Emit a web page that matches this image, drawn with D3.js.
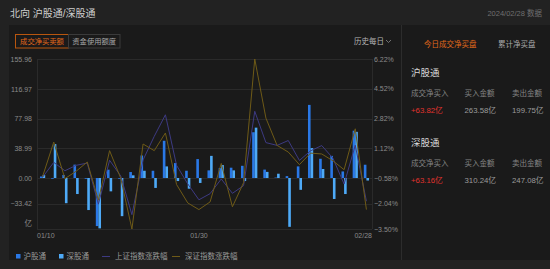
<!DOCTYPE html>
<html>
<head>
<meta charset="utf-8">
<script src="https://cdn.jsdelivr.net/npm/d3@7"></script>
<style>
  body { margin: 0; background: #222; }
  svg { display: block; font-family: "Liberation Sans", "Noto Sans CJK SC", sans-serif; }
</style>
</head>
<body>
<svg id="chart" width="550" height="269"></svg>
<script>
// trading days
const dates = ['01/10','01/11','01/12','01/15','01/16','01/17','01/18','01/19','01/22','01/23',
  '01/24','01/25','01/26','01/29','01/30','01/31','02/01','02/02','02/05','02/06',
  '02/07','02/08','02/19','02/20','02/21','02/22','02/23','02/26','02/27','02/28'];
// 沪股通 net buy (亿)
const shBuy = [2, -1, 4, 17.5, -1, -63, 10.9, -1, 7.8, 29.5,
  9.5, 48.8, 19.6, 9.5, 24.8, 10, 13, 13.5, 16, 60,
  11, 0.6, 2.5, 15.2, 95.8, 25.2, 29, 8.6, 62, 17.4];
// 深股通 net buy (亿)
const szBuy = [4, 44.4, -33, -21, -42, -66, -17.5, -50, 3.5, 9.5,
  -13, 15.2, -4, -14, -6.5, 29, 17, 10, -4, 66,
  8, 5.6, -64, -15.5, 39.2, 11.8, -27.5, -21, 60.5, -3.3];
// 上证指数涨跌幅 (%)
const shIdx = [-0.54, 0.31, -0.17, 0.14, 0.27, -2.08, 0.43, -0.47, -2.68, 0.45,
  1.80, 3.03, 0.14, -0.92, -1.83, -1.48, -0.64, -1.46, -1.02, 3.23,
  1.44, 1.28, 1.56, 0.42, 0.97, 1.27, 0.55, -0.93, 1.29, -1.91];
// 深证指数涨跌幅 (%)
const szIdx = [-0.5, 1.47, -0.62, -0.2, 0.33, -1.85, 0.98, -0.6, -3.50, 1.36,
  0.98, 1.99, -0.96, -2.01, -2.39, -1.95, 0.25, -2.23, -0.85, 6.22,
  2.84, 1.28, 0.9, 0.18, 0.84, 0.79, 0.4, -0.11, 2.23, -2.39];
const leftTicks = [155.96, 116.97, 77.98, 38.99, 0, -33.42];
const leftMin = -66.84;
const rightTicks = [6.22, 4.52, 2.82, 1.12, -0.58, -2.04, -3.50];
const xLabels = ['01/10', '01/30', '02/28'];

const svg = d3.select('#chart');
const plotL = 37, plotR = 372, plotT = 59, plotB = 229;

// panels
svg.append('rect').attr('x', 0).attr('y', 0).attr('width', 550).attr('height', 269).attr('fill', '#222');
svg.append('rect').attr('x', 9).attr('y', 25).attr('width', 541).attr('height', 235).attr('fill', '#1a1a1a');
svg.append('line').attr('x1', 401.5).attr('x2', 401.5).attr('y1', 25).attr('y2', 260).attr('stroke', '#2c2c2c');

svg.append('text').attr('x', 10).attr('y', 17).attr('fill', '#cfcfcf').attr('font-size', 10)
  .text('北向 沪股通/深股通');
svg.append('text').attr('x', 542).attr('y', 16).attr('fill', '#6f6f6f').attr('font-size', 7.5)
  .attr('text-anchor', 'end').text('2024/02/28 数据');

// buttons
svg.append('rect').attr('x', 15.5).attr('y', 34.5).attr('width', 53).attr('height', 13.5)
  .attr('fill', 'none').attr('stroke', '#b8560f');
svg.append('text').attr('x', 42).attr('y', 44.3).attr('text-anchor', 'middle').attr('fill', '#e2691a')
  .attr('font-size', 7.3).text('成交净买卖额');
svg.append('rect').attr('x', 68.5).attr('y', 34.5).attr('width', 51.5).attr('height', 13.5)
  .attr('fill', 'none').attr('stroke', '#3a3a3a');
svg.append('text').attr('x', 94.2).attr('y', 44.3).attr('text-anchor', 'middle').attr('fill', '#a8a8a8')
  .attr('font-size', 7.3).text('资金使用额度');
svg.append('text').attr('x', 354).attr('y', 43.5).attr('fill', '#b5b5b5').attr('font-size', 7.5).text('历史每日');
svg.append('path').attr('d', 'M386,40 L388.5,42.5 L391,40').attr('fill', 'none').attr('stroke', '#888').attr('stroke-width', 0.8);

// scales
const x = d3.scaleBand().domain(dates).range([plotL, plotR]);
const bw = x.bandwidth();
const yL = d3.scaleLinear().domain([leftMin, leftTicks[0]]).range([plotB, plotT]);
const yR = d3.scaleLinear().domain([rightTicks[rightTicks.length - 1], rightTicks[0]]).range([plotB, plotT]);

// grid
const grid = svg.append('g');
grid.selectAll('line.h').data(leftTicks.concat([leftMin])).enter().append('line')
  .attr('x1', plotL).attr('x2', plotR)
  .attr('y1', d => Math.round(yL(d)) + 0.5).attr('y2', d => Math.round(yL(d)) + 0.5)
  .attr('stroke', '#2a2a2a');
grid.selectAll('line.v').data([plotL, plotR]).enter().append('line')
  .attr('x1', d => d + 0.5).attr('x2', d => d + 0.5).attr('y1', plotT).attr('y2', plotB)
  .attr('stroke', '#2a2a2a');

// left axis
const yAxisL = d3.axisLeft(yL).tickValues(leftTicks).tickSize(0).tickPadding(5)
  .tickFormat(d => d3.format('.2f')(d));
const gL = svg.append('g').attr('transform', `translate(${plotL},0)`).call(yAxisL);
gL.select('.domain').remove();
gL.selectAll('text').attr('fill', '#8a8a8a').attr('font-size', 7);
svg.append('text').attr('x', 32).attr('y', yL(leftMin) - 3).attr('text-anchor', 'end')
  .attr('fill', '#8a8a8a').attr('font-size', 7.5).text('亿');

// right axis
const yAxisR = d3.axisRight(yR).tickValues(rightTicks).tickSize(0).tickPadding(2)
  .tickFormat(d => d3.format('.2f')(d) + '%');
const gR = svg.append('g').attr('transform', `translate(${plotR},0)`).call(yAxisR);
gR.select('.domain').remove();
gR.selectAll('text').attr('fill', '#8a8a8a').attr('font-size', 7);

// bottom axis
const xAxis = d3.axisBottom(x).tickValues(xLabels).tickSize(0).tickPadding(4);
const gX = svg.append('g').attr('transform', `translate(0,${plotB})`).call(xAxis);
gX.select('.domain').remove();
gX.selectAll('text').attr('fill', '#8a8a8a').attr('font-size', 7)
  .attr('text-anchor', (d, i) => i === 0 ? 'start' : (i === xLabels.length - 1 ? 'end' : 'middle'))
  .attr('dx', (d, i) => i === 0 ? -bw / 2 : (i === xLabels.length - 1 ? bw / 2 : 0));

// bars
const barW = 2.6;
const cx = d => x(d) + bw / 2;
svg.append('g').selectAll('rect').data(dates).enter().append('rect')
  .attr('x', d => cx(d) - barW)
  .attr('y', (d, i) => yL(Math.max(0, shBuy[i])))
  .attr('width', barW)
  .attr('height', (d, i) => Math.abs(yL(shBuy[i]) - yL(0)))
  .attr('fill', '#2a78e6');
svg.append('g').selectAll('rect').data(dates).enter().append('rect')
  .attr('x', d => cx(d))
  .attr('y', (d, i) => yL(Math.max(0, szBuy[i])))
  .attr('width', barW)
  .attr('height', (d, i) => Math.abs(yL(szBuy[i]) - yL(0)))
  .attr('fill', '#4eaaf7');

// lines
const line = d3.line().x((d, i) => cx(dates[i])).y(d => yR(d));
svg.append('path').datum(shIdx).attr('d', line).attr('fill', 'none')
  .attr('stroke', '#3d3a82').attr('stroke-width', 1);
svg.append('path').datum(szIdx).attr('d', line).attr('fill', 'none')
  .attr('stroke', '#6e5a17').attr('stroke-width', 1);

// legend
const lg = svg.append('g').attr('font-size', 7.5).attr('fill', '#9a9a9a');
lg.append('rect').attr('x', 16).attr('y', 254).attr('width', 4.5).attr('height', 4.5).attr('fill', '#2a78e6');
lg.append('text').attr('x', 23.5).attr('y', 259).text('沪股通');
lg.append('rect').attr('x', 59).attr('y', 254).attr('width', 4.5).attr('height', 4.5).attr('fill', '#4eaaf7');
lg.append('text').attr('x', 66.5).attr('y', 259).text('深股通');
lg.append('line').attr('x1', 102).attr('x2', 110).attr('y1', 256.5).attr('y2', 256.5).attr('stroke', '#3d3a82');
lg.append('text').attr('x', 115).attr('y', 259).text('上证指数涨跌幅');
lg.append('line').attr('x1', 172).attr('x2', 180).attr('y1', 256.5).attr('y2', 256.5).attr('stroke', '#6e5a17');
lg.append('text').attr('x', 185).attr('y', 259).text('深证指数涨跌幅');

// right panel
const rp = svg.append('g');
rp.append('text').attr('x', 424).attr('y', 47).attr('fill', '#e2691a').attr('font-size', 7.5).text('今日成交净买盘');
rp.append('text').attr('x', 498).attr('y', 47).attr('fill', '#a8a8a8').attr('font-size', 7.5).text('累计净买盘');
const blocks = [
  { name: '沪股通', y: 72, vals: ['+63.82亿', '263.58亿', '199.75亿'] },
  { name: '深股通', y: 142, vals: ['+63.16亿', '310.24亿', '247.08亿'] }
];
const cols = [411, 464.5, 512];
const heads = ['成交净买入', '买入金额', '卖出金额'];
blocks.forEach(b => {
  rp.append('text').attr('x', 411).attr('y', b.y + 3.5).attr('fill', '#d8d8d8').attr('font-size', 9.5).text(b.name);
  heads.forEach((h, i) => rp.append('text').attr('x', cols[i]).attr('y', b.y + 24).attr('fill', '#858585')
    .attr('font-size', 7.5).text(h));
  b.vals.forEach((v, i) => rp.append('text').attr('x', cols[i]).attr('y', b.y + 40.5)
    .attr('fill', i === 0 ? '#e0332e' : '#9a9a9a').attr('font-size', 7.8).text(v));
});
</script>
</body>
</html>
